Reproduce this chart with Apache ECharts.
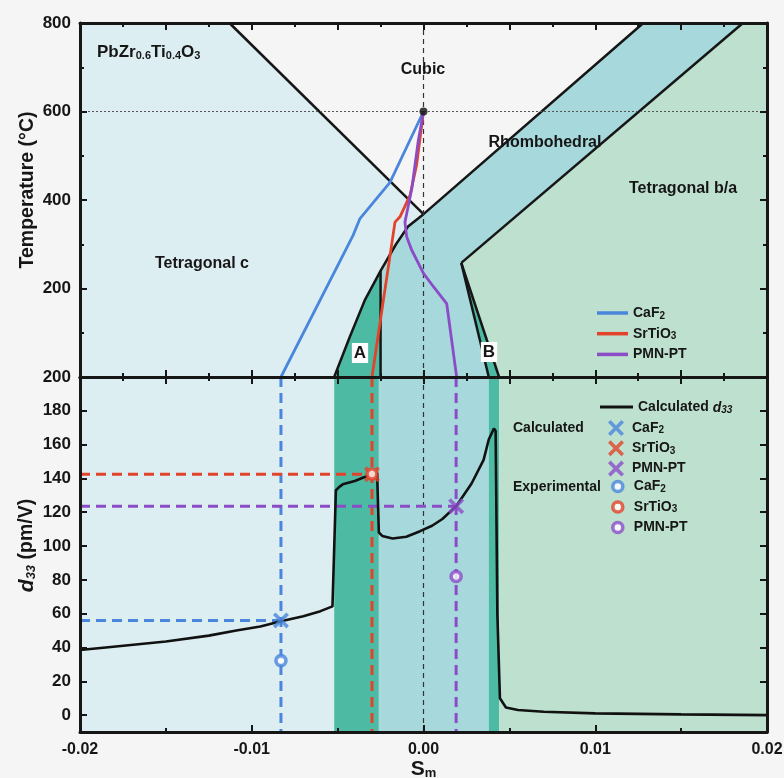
<!DOCTYPE html>
<html>
<head>
<meta charset="utf-8">
<script src="https://cdn.jsdelivr.net/npm/echarts@6/dist/echarts.min.js"></script>
<style>
  html, body { margin: 0; padding: 0; background: #f5f5f5; }
  #chart { width: 784px; height: 778px; }
</style>
</head>
<body>
<div id="chart"></div>
<script>
// ---- Phase diagram of PbZr0.6Ti0.4O3: temperature vs misfit strain Sm ----
const smRange = [-0.02, 0.02];
const tempRange = [0, 800];
const d33Range = [-10, 200];
const tempTicks = [200, 400, 600, 800];
const d33Ticks = [0, 20, 40, 60, 80, 100, 120, 140, 160, 180, 200];

// phase boundaries [Sm, T]
const cubicTetraCLine = [[-0.0113, 800], [0, 368]];
const rhomboUpperLine = [[-0.0052, 0], [-0.0043, 90], [-0.0034, 175], [-0.0025, 240],
                         [-0.0016, 300], [-0.0009, 340], [0, 368], [0.0128, 800]];
const aVerticalLine = [[-0.0025, 0], [-0.0025, 240]];
const rhomboLowerLine = [[0.0186, 800], [0.0022, 258]];
const bLeftLine = [[0.0022, 258], [0.0038, 0]];
const bRightLine = [[0.0022, 258], [0.0044, 0]];
const curieTemp = [[0, 600]];

// strain paths of the film on each substrate during cooling [Sm, T]
const pathCaF2 = [[0, 600], [-0.00195, 440], [-0.0037, 358], [-0.0041, 320], [-0.0083, 0]];
const pathSrTiO3 = [[0, 600], [-0.0004, 480], [-0.00078, 411], [-0.00137, 362], [-0.00166, 350], [-0.0030, 0]];
const pathPMNPT = [[0, 600], [-0.0003, 535], [-0.00068, 426], [-0.00108, 350], [-0.00098, 317],
                   [-0.00069, 287], [0, 234], [0.00058, 204], [0.00135, 166], [0.00193, 0]];

// room-temperature phase bands along Sm (bottom panel)
const bandEdges = [-0.02, -0.0052, -0.0026, 0.0038, 0.0044, 0.02];
const bandPhases = ['tetraC', 'A', 'rhombo', 'B', 'tetraBA'];

// calculated d33 (pm/V) vs Sm
const d33Curve = [
  [-0.02, 38.5], [-0.0185, 40], [-0.015, 43.5], [-0.0125, 47], [-0.0109, 50], [-0.0095, 52.4],
  [-0.0083, 55.5], [-0.007, 58.5], [-0.006, 61.5], [-0.0053, 64.3], [-0.0051, 133],
  [-0.0049, 135], [-0.0047, 136.5], [-0.004, 138.5], [-0.0035, 140.5], [-0.003, 142.4],
  [-0.0027, 143], [-0.0026, 108], [-0.0024, 106], [-0.0018, 104.5], [-0.001, 105.5],
  [-0.0002, 108.8], [0.0005, 112], [0.0011, 116], [0.0019, 123.6], [0.0028, 137],
  [0.0035, 151], [0.0038, 163], [0.0041, 169.5], [0.0042, 168], [0.0043, 60],
  [0.00445, 10], [0.0048, 4.5], [0.0055, 3], [0.007, 2], [0.01, 1], [0.015, 0.4], [0.02, 0]
];

// substrates: room-temperature strain, calculated and measured d33
const substrates = ['CaF2', 'SrTiO3', 'PMN-PT'];
const substrateSm = [-0.0083, -0.0030, 0.0019];
const calcD33 = [56, 142.4, 123.6];
const expD33 = [32.2, 142.6, 82];

// ---- styling ----
const FONT = "'Liberation Sans', Arial, sans-serif";
const INK = '#161616';
const subColor = { 'CaF2': '#4a86dc', 'SrTiO3': '#e2432a', 'PMN-PT': '#8c4cc8' };
const phaseColor = {
  tetraC: '#ddeef2', cubic: '#f5f5f5', rhombo: '#a6d8dc', tetraBA: '#bee0cf', A: '#4dbba3', B: '#4dbba3'
};
const subText = { 'CaF2': 'CaF{s|2}', 'SrTiO3': 'SrTiO{s|3}', 'PMN-PT': 'PMN-PT' };
const richSub = {
  s: { fontSize: 10, fontWeight: 'bold', fontFamily: FONT, color: INK, lineHeight: 8, verticalAlign: 'bottom' },
  i: { fontSize: 14, fontWeight: 'bold', fontStyle: 'italic', fontFamily: FONT, color: INK, lineHeight: 16, verticalAlign: 'bottom' },
  si: { fontSize: 10, fontWeight: 'bold', fontStyle: 'italic', fontFamily: FONT, color: INK, lineHeight: 8, verticalAlign: 'bottom' }
};
const crossPath = 'path://M1.6,0 L5,3.4 L8.4,0 L10,1.6 L6.6,5 L10,8.4 L8.4,10 L5,6.6 L1.6,10 L0,8.4 L3.4,5 L0,1.6 Z';

// polygons of the top panel, built from the boundary arrays
const tMax = tempRange[1];
const curveToJunction = rhomboUpperLine.slice(3, 7);   // from A corner up to (0,368)
const regions = [
  { phase: 'tetraC', pts: [[smRange[0], 0], [smRange[0], tMax], [smRange[1], tMax], [smRange[1], 0]] },
  { phase: 'cubic', pts: [cubicTetraCLine[0], rhomboUpperLine[7], rhomboUpperLine[6]] },
  { phase: 'rhombo', pts: [aVerticalLine[0]].concat(curveToJunction, [rhomboUpperLine[7], rhomboLowerLine[0], rhomboLowerLine[1], bLeftLine[1]]) },
  { phase: 'tetraBA', pts: [rhomboLowerLine[0], [smRange[1], tMax], [smRange[1], 0], bRightLine[1], rhomboLowerLine[1]] },
  { phase: 'A', pts: rhomboUpperLine.slice(0, 4).concat([aVerticalLine[0]]) },
  { phase: 'B', pts: [bLeftLine[0], bRightLine[1], bLeftLine[1]] }
];

function polySeries(xi, yi, polys) {
  return {
    type: 'custom', xAxisIndex: xi, yAxisIndex: yi, silent: true, z: 1,
    data: polys.map(function () { return [0, 0]; }),
    renderItem: function (params, api) {
      const r = polys[params.dataIndex];
      return { type: 'polygon', shape: { points: r.pts.map(function (p) { return api.coord(p); }) },
               style: { fill: phaseColor[r.phase], stroke: null } };
    }
  };
}
const bandPolys = bandPhases.map(function (ph, i) {
  return { phase: ph, pts: [[bandEdges[i], d33Range[0]], [bandEdges[i], d33Range[1]],
                            [bandEdges[i + 1], d33Range[1]], [bandEdges[i + 1], d33Range[0]]] };
});

function lineS(xi, yi, data, color, width, type, z, name) {
  return { type: 'line', name: name, xAxisIndex: xi, yAxisIndex: yi, data: data, symbol: 'none',
           silent: true, z: z, animation: false, itemStyle: { color: color },
           lineStyle: { color: color, width: width, type: type || 'solid', cap: 'butt' } };
}

const AX_LINE = { show: true, onZero: false, lineStyle: { color: INK, width: 3 } };
const AX_TICK = { show: true, inside: true, length: 7, lineStyle: { color: INK, width: 2 } };
const AX_MINOR = { show: true, splitNumber: 2, length: 4, lineStyle: { color: INK, width: 2 } };
const labelStyle = { color: INK, fontSize: 16, fontWeight: 'bold', fontFamily: FONT };

function xAxisCfg(grid, pos, interval, showLabel, name) {
  return {
    type: 'value', gridIndex: grid, position: pos, min: smRange[0], max: smRange[1], interval: interval, z: 10,
    axisLine: AX_LINE, axisTick: AX_TICK, minorTick: AX_MINOR, splitLine: { show: false },
    axisLabel: Object.assign({ show: showLabel, margin: 10, formatter: function (v) { return v.toFixed(2); } }, labelStyle),
    name: name || '', nameLocation: 'middle', nameGap: 26, nameMoveOverlap: false,
    nameTextStyle: { color: INK, fontSize: 21, fontWeight: 'bold', fontFamily: FONT,
      rich: { m: { fontSize: 13, fontWeight: 'bold', fontFamily: FONT, color: INK, lineHeight: 8, verticalAlign: 'bottom' },
              b: { fontSize: 21, fontWeight: 'bold', fontFamily: FONT, color: INK, lineHeight: 22, verticalAlign: 'bottom' } } }
  };
}

const option = {
  backgroundColor: '#f5f5f5',
  animation: false,
  grid: [
    { left: 80, right: 17, top: 23, height: 354, containLabel: false, outerBoundsMode: 'none' },
    { left: 80, right: 17, top: 377, height: 355, containLabel: false, outerBoundsMode: 'none' }
  ],
  xAxis: [
    xAxisCfg(0, 'bottom', 0.005, false),
    xAxisCfg(0, 'top', 0.005, false),
    xAxisCfg(1, 'bottom', 0.01, true, '{b|S}{m|m}'),
    xAxisCfg(1, 'top', 0.005, false)
  ],
  yAxis: [
    {
      type: 'value', gridIndex: 0, position: 'left', min: tempRange[0], max: tempRange[1], interval: 200, z: 10,
      axisLine: AX_LINE, axisTick: AX_TICK, minorTick: AX_MINOR, splitLine: { show: false },
      axisLabel: Object.assign({ margin: 9, formatter: function (v) { return tempTicks.indexOf(v) >= 0 ? String(v) : ''; } }, labelStyle, { fontSize: 17 }),
      name: 'Temperature (°C)', nameLocation: 'middle', nameGap: 42, nameMoveOverlap: false,
      nameTextStyle: { color: INK, fontSize: 19.5, fontWeight: 'bold', fontFamily: FONT, padding: [0, 0, 0, 20] }
    },
    {
      type: 'value', gridIndex: 0, position: 'right', min: tempRange[0], max: tempRange[1], interval: 200, z: 10,
      axisLine: AX_LINE, axisTick: AX_TICK, minorTick: AX_MINOR, splitLine: { show: false }, axisLabel: { show: false }
    },
    {
      type: 'value', gridIndex: 1, position: 'left', min: d33Range[0], max: d33Range[1], z: 10,
      axisLine: AX_LINE, axisTick: Object.assign({ customValues: d33Ticks }, AX_TICK),
      minorTick: { show: false }, splitLine: { show: false },
      axisLabel: Object.assign({ margin: 9, customValues: d33Ticks }, labelStyle, { fontSize: 17 }),
      name: '{i|d}{si|33} (pm/V)', nameLocation: 'middle', nameGap: 42, nameMoveOverlap: false,
      nameTextStyle: { color: INK, fontSize: 19.5, fontWeight: 'bold', fontFamily: FONT, padding: [0, 0, 0, 18],
        rich: { i: { fontSize: 21, fontStyle: 'italic', fontWeight: 'bold', fontFamily: FONT, color: INK, lineHeight: 22, verticalAlign: 'bottom' },
                si: { fontSize: 13, fontStyle: 'italic', fontWeight: 'bold', fontFamily: FONT, color: INK, lineHeight: 10, verticalAlign: 'bottom' } } }
    },
    {
      type: 'value', gridIndex: 1, position: 'right', min: d33Range[0], max: d33Range[1], z: 10,
      axisLine: AX_LINE, axisTick: Object.assign({ customValues: d33Ticks }, AX_TICK),
      minorTick: { show: false }, splitLine: { show: false }, axisLabel: { show: false }
    }
  ],
  legend: [
    {
      data: substrates, left: 592, top: 300, orient: 'vertical', icon: 'rect', itemWidth: 31, itemHeight: 3.5, itemGap: 4.7,
      selectedMode: false, formatter: function (n) { return subText[n]; },
      textStyle: { color: INK, fontSize: 14, fontWeight: 'bold', fontFamily: FONT, lineHeight: 16, rich: richSub }
    },
    {
      data: ['Calculated d33'], left: 595, top: 394, orient: 'vertical', icon: 'rect', itemWidth: 33, itemHeight: 3,
      selectedMode: false, formatter: function () { return 'Calculated {i|d}{si|33}'; },
      textStyle: { color: INK, fontSize: 14, fontWeight: 'bold', fontFamily: FONT, lineHeight: 16, rich: richSub }
    },
    {
      data: substrates.map(function (s) { return 'calc ' + s; }),
      left: 603, top: 415, orient: 'vertical', itemWidth: 16, itemHeight: 16, itemGap: 4.3,
      selectedMode: false, formatter: function (n) { return subText[n.replace(/^calc /, '')]; },
      textStyle: { color: INK, fontSize: 14, fontWeight: 'bold', fontFamily: FONT, lineHeight: 15, padding: [0, 0, 0, 3], rich: richSub }
    },
    {
      data: substrates.map(function (s) {
        return { name: 'exp ' + s, itemStyle: { color: '#ffffff', borderColor: subColor[s], borderWidth: 3.6 } };
      }),
      left: 606, top: 474, orient: 'vertical', itemWidth: 10, itemHeight: 10, itemGap: 5.5,
      selectedMode: false, formatter: function (n) { return subText[n.replace(/^exp /, '')]; },
      textStyle: { color: INK, fontSize: 14, fontWeight: 'bold', fontFamily: FONT, lineHeight: 15, padding: [0, 0, 0, 6], rich: richSub }
    }
  ],
  graphic: [
    { type: 'text', x: 97, y: 52, z: 50, style: { text: 'PbZr{s|0.6}Ti{s|0.4}O{s|3}', fontSize: 17, fontWeight: 'bold', fontFamily: FONT, fill: INK,
        verticalAlign: 'middle', lineHeight: 18,
        rich: { s: { fontSize: 11, fontWeight: 'bold', fontFamily: FONT, fill: INK, lineHeight: 8, verticalAlign: 'bottom' } } } },
    { type: 'text', x: 423, y: 70, z: 50, style: { text: 'Cubic', fontSize: 16, fontWeight: 'bold', fontFamily: FONT, fill: INK, align: 'center', verticalAlign: 'middle' } },
    { type: 'text', x: 545, y: 143, z: 50, style: { text: 'Rhombohedral', fontSize: 16, fontWeight: 'bold', fontFamily: FONT, fill: INK, align: 'center', verticalAlign: 'middle' } },
    { type: 'text', x: 683, y: 189, z: 50, style: { text: 'Tetragonal b/a', fontSize: 16, fontWeight: 'bold', fontFamily: FONT, fill: INK, align: 'center', verticalAlign: 'middle' } },
    { type: 'text', x: 202, y: 264, z: 50, style: { text: 'Tetragonal c', fontSize: 16, fontWeight: 'bold', fontFamily: FONT, fill: INK, align: 'center', verticalAlign: 'middle' } },
    { type: 'text', x: 360, y: 353, z: 50, style: { text: 'A', fontSize: 17, fontWeight: 'bold', fontFamily: FONT, fill: INK, align: 'center', verticalAlign: 'middle', backgroundColor: '#ffffff', padding: [2, 2, 1, 2] } },
    { type: 'text', x: 489, y: 352, z: 50, style: { text: 'B', fontSize: 17, fontWeight: 'bold', fontFamily: FONT, fill: INK, align: 'center', verticalAlign: 'middle', backgroundColor: '#ffffff', padding: [2, 2, 1, 2] } },
    { type: 'text', x: 513, y: 428, z: 50, style: { text: 'Calculated', fontSize: 14, fontWeight: 'bold', fontFamily: FONT, fill: INK, verticalAlign: 'middle' } },
    { type: 'text', x: 513, y: 487, z: 50, style: { text: 'Experimental', fontSize: 14, fontWeight: 'bold', fontFamily: FONT, fill: INK, verticalAlign: 'middle' } }
  ],
  series: []
};

const S = option.series;
// top panel: phase regions, boundaries, reference lines, strain paths
S.push(polySeries(0, 0, regions));
[cubicTetraCLine, rhomboUpperLine, aVerticalLine, rhomboLowerLine, bLeftLine, bRightLine].forEach(function (b) {
  S.push(lineS(0, 0, b, INK, 2.5, 'solid', 3));
});
S.push(lineS(0, 0, [[0, tempRange[0]], [0, tempRange[1]]], '#333', 1.2, [5, 4], 4));
S.push(lineS(0, 0, [[smRange[0], curieTemp[0][1]], [smRange[1], curieTemp[0][1]]], '#555', 1, [2, 2], 4));
S.push(lineS(0, 0, pathCaF2, subColor['CaF2'], 2.8, 'solid', 5, 'CaF2'));
S.push(lineS(0, 0, pathSrTiO3, subColor['SrTiO3'], 2.8, 'solid', 5, 'SrTiO3'));
S.push(lineS(0, 0, pathPMNPT, subColor['PMN-PT'], 2.8, 'solid', 6, 'PMN-PT'));
S.push({ type: 'scatter', xAxisIndex: 0, yAxisIndex: 0, data: curieTemp, symbol: 'circle', symbolSize: 8,
         itemStyle: { color: '#111' }, z: 7, silent: true });

// bottom panel: phase bands, substrate guide lines, d33 curve, markers
S.push(polySeries(2, 2, bandPolys));
S.push(lineS(2, 2, [[0, d33Range[0]], [0, d33Range[1]]], '#333', 1.2, [5, 4], 2));
substrates.forEach(function (s, i) {
  S.push(lineS(2, 2, [[substrateSm[i], d33Range[1]], [substrateSm[i], d33Range[0]]], subColor[s], 3, [10, 6], 3));
  S.push(lineS(2, 2, [[smRange[0], calcD33[i]], [substrateSm[i], calcD33[i]]], subColor[s], 3, [10, 6], 3));
});
S.push(lineS(2, 2, d33Curve, '#111', 2.6, 'solid', 4, 'Calculated d33'));
substrates.forEach(function (s, i) {
  S.push({ type: 'scatter', name: 'calc ' + s, xAxisIndex: 2, yAxisIndex: 2, data: [[substrateSm[i], calcD33[i]]],
           symbol: crossPath, symbolSize: 16, itemStyle: { color: subColor[s] }, z: 6, silent: true });
});
substrates.forEach(function (s, i) {
  S.push({ type: 'scatter', name: 'exp ' + s, xAxisIndex: 2, yAxisIndex: 2, data: [[substrateSm[i], expD33[i]]],
           symbol: 'circle', symbolSize: 10, itemStyle: { color: '#ffffff', borderColor: subColor[s], borderWidth: 3.6 }, z: 7, silent: true });
});

const chart = echarts.init(document.getElementById('chart'), null, { renderer: 'canvas' });
chart.setOption(option);
</script>
</body>
</html>
